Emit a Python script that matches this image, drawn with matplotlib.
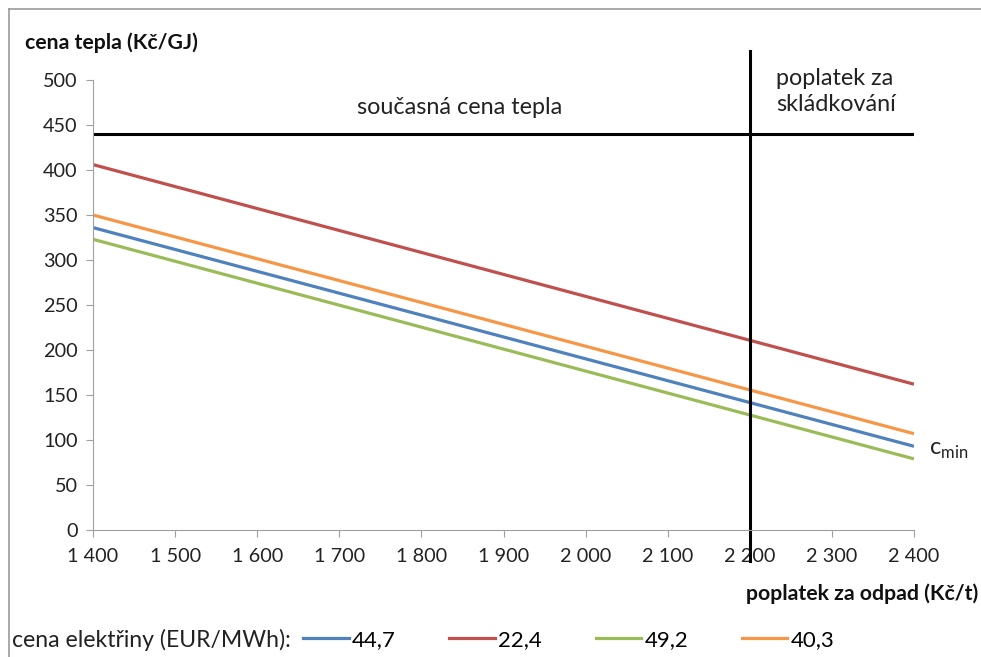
import matplotlib
matplotlib.use("Agg")
import matplotlib.pyplot as plt
from matplotlib.lines import Line2D
from matplotlib.ticker import FuncFormatter

plt.rcParams['font.family'] = ['Lato', 'DejaVu Sans']

# poplatek za odpad (Kč/t) – start and end of each line
fee = [1400, 2400]
series_labels = ["44,7", "22,4", "49,2", "40,3"]
series_values = [
    [336, 93],   # 44,7
    [406, 162],  # 22,4
    [323, 79],   # 49,2
    [350, 107],  # 40,3
]
series_colors = ["#4F81BD", "#C0504D", "#9BBB59", "#F79646"]

current_price = 440
landfill_fee = 2200

x_ticks = list(range(1400, 2401, 100))
y_ticks = list(range(0, 501, 50))

fig = plt.figure(figsize=(9.81, 6.57), dpi=100)
ax = fig.add_axes([93/981, 1-530/657, (914-93)/981, (530-80)/657])

for vals, lab, col in zip(series_values, series_labels, series_colors):
    ax.plot(fee, vals, color=col, lw=2.3, label=lab, solid_capstyle='butt')

ax.plot(fee, [current_price, current_price], color='black', lw=2.2)
ax.plot([landfill_fee, landfill_fee], [532, -34], color='black', lw=2.2, clip_on=False)

ax.set_xlim(1400, 2400)
ax.set_ylim(0, 500)
ax.set_xticks(x_ticks)
ax.set_yticks(y_ticks)
ax.xaxis.set_major_formatter(FuncFormatter(lambda v, p: f"{int(v):,}".replace(",", " ")))
ax.tick_params(axis='both', labelsize=14.3, length=5, width=0.8, color='#A0A0A0',
               labelcolor='#222222')
ax.tick_params(axis='x', pad=8)
ax.tick_params(axis='y', pad=6)
for s in ['top', 'right']:
    ax.spines[s].set_visible(False)
for s in ['left', 'bottom']:
    ax.spines[s].set_color('#A0A0A0')
    ax.spines[s].set_linewidth(0.8)

ax.text(1847, 470, "současná cena tepla", fontsize=16.8, ha='center', va='center', color='#222222')
ax.text(2232, 487, "poplatek za\nskládkování", fontsize=16.8, ha='left', va='center',
        color='#222222', linespacing=1.3)
ax.text(2418, 88, r"c$_{\mathregular{min}}$", fontsize=17, ha='left', va='center', color='#222222')

fig.text(25/981, 1-43/657, "cena tepla (Kč/GJ)", fontsize=15.3, fontweight='bold',
         ha='left', va='center', color='#111111')
fig.text(978/981, 1-594/657, "poplatek za odpad (Kč/t)", fontsize=15.3, fontweight='bold',
         ha='right', va='center', color='#111111')

fig.text(12/981, 1-640/657, "cena elektřiny (EUR/MWh):", fontsize=16.6, ha='left', va='center',
         color='#222222')
handles = [Line2D([], [], color=c, lw=2.3) for c in series_colors]
fig.legend(handles, series_labels, loc='center left', bbox_to_anchor=(303/981, 1-640/657),
           ncol=4, frameon=False, fontsize=16, handlelength=2.06, handletextpad=0.15,
           columnspacing=2.4, borderaxespad=0, borderpad=0)

# outer frame
fig.add_artist(Line2D([8.5/981, 8.5/981], [0, 1-9/657], color='#9A9A9A', lw=1.2,
                      transform=fig.transFigure))
fig.add_artist(Line2D([8.5/981, 1], [1-9/657, 1-9/657], color='#9A9A9A', lw=1.2,
                      transform=fig.transFigure))

fig.savefig("out.png", dpi=100)
